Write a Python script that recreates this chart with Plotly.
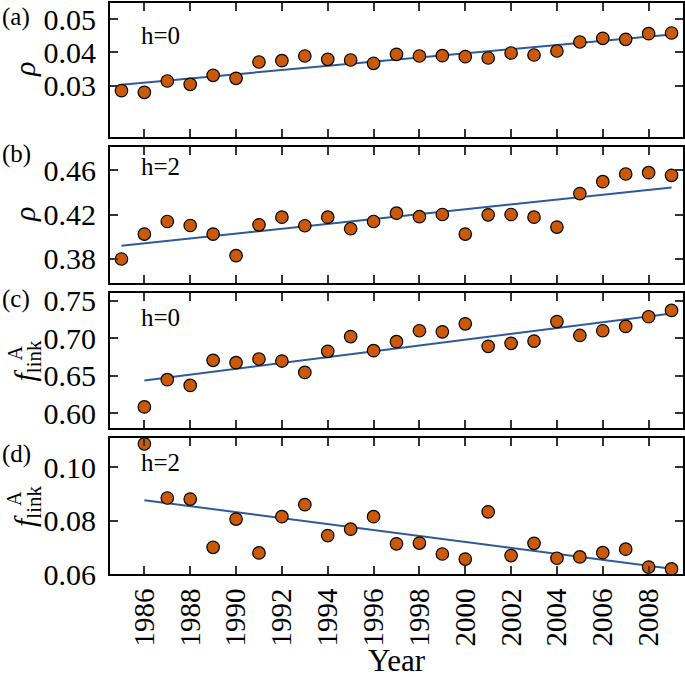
import numpy as np
import plotly.graph_objects as go

# ---------------- data ----------------
years_ab = list(range(1985, 2010))
years_cd = list(range(1986, 2010))

rho_h0 = [0.0285, 0.0280, 0.0314, 0.0304, 0.0331, 0.0322, 0.0371, 0.0375, 0.0389,
          0.0379, 0.0377, 0.0367, 0.0394, 0.0389, 0.0390, 0.0387, 0.0383, 0.0398,
          0.0392, 0.0404, 0.0431, 0.0442, 0.0439, 0.0456, 0.0458]

rho_h2 = [0.3800, 0.4024, 0.4137, 0.4101, 0.4024, 0.3830, 0.4107, 0.4176, 0.4099,
          0.4176, 0.4072, 0.4137, 0.4212, 0.4180, 0.4200, 0.4024, 0.4197, 0.4200,
          0.4176, 0.4087, 0.4388, 0.4495, 0.4564, 0.4576, 0.4552]

flink_h0 = [0.6084, 0.6447, 0.6371, 0.6704, 0.6673, 0.6722, 0.6695, 0.6544, 0.6824,
            0.7020, 0.6833, 0.6953, 0.7098, 0.7084, 0.7190, 0.6890, 0.6930, 0.6960,
            0.7220, 0.7035, 0.7098, 0.7155, 0.7284, 0.7368]

flink_h2 = [0.1088, 0.0885, 0.0881, 0.0700, 0.0806, 0.0679, 0.0815, 0.0860, 0.0744,
            0.0768, 0.0815, 0.0713, 0.0716, 0.0675, 0.0656, 0.0833, 0.0669, 0.0715,
            0.0659, 0.0664, 0.0680, 0.0693, 0.0626, 0.0619]

panel_letters = ["(a)", "(b)", "(c)", "(d)"]
h_labels = ["h=0", "h=2", "h=0", "h=2"]
year_ticks = list(range(1986, 2009, 2))
ytick_sets = [[0.03, 0.04, 0.05], [0.38, 0.42, 0.46],
              [0.60, 0.65, 0.70, 0.75], [0.06, 0.08, 0.10]]
ytick_text = [["0.03", "0.04", "0.05"], ["0.38", "0.42", "0.46"],
              ["0.60", "0.65", "0.70", "0.75"], ["0.06", "0.08", "0.10"]]

# ---------------- style / layout ----------------
W, H = 685, 677
L, R, T, B = 110, 2, 3, 103
PW, PH = W - L - R, H - T - B
FONT = "Liberation Serif"
ORANGE = "#CA5A0A"
BLUE = "#2F5A9A"

def py(pix):
    return 1 - (pix - T) / PH

def px(pix):
    return (pix - L) / PW

panel_pix = [(3, 137), (147, 283), (293, 428), (438, 574)]
y_ranges = [[0.0146, 0.0548], [0.3584, 0.4807], [0.5804, 0.760], [0.060, 0.111]]

series = [(years_ab, rho_h0), (years_ab, rho_h2), (years_cd, flink_h0), (years_cd, flink_h2)]

fig = go.Figure()
for i, (xs, ys) in enumerate(series):
    sfx = "" if i == 0 else str(i + 1)
    coef = np.polyfit(xs, ys, 1)
    xfit = np.array([xs[0], xs[-1]])
    yfit = np.polyval(coef, xfit)
    fig.add_trace(go.Scatter(x=xfit, y=yfit, mode="lines",
                             line=dict(color=BLUE, width=2),
                             xaxis="x" + sfx, yaxis="y" + sfx, showlegend=False))
    fig.add_trace(go.Scatter(x=xs, y=ys, mode="markers",
                             marker=dict(size=12.5, color=ORANGE,
                                         line=dict(color="black", width=1.2)),
                             xaxis="x" + sfx, yaxis="y" + sfx, showlegend=False))

layout = dict(template="none", width=W, height=H,
              margin=dict(l=L, r=R, t=T, b=B, autoexpand=False),
              paper_bgcolor="white", plot_bgcolor="white",
              font=dict(family=FONT, color="black", size=28))

for i in range(4):
    sfx = "" if i == 0 else str(i + 1)
    top, bot = panel_pix[i]
    layout["xaxis" + sfx] = dict(
        domain=[0, 1], anchor="y" + sfx, range=[1984.5, 2009.5],
        tickmode="array", tickvals=year_ticks,
        ticktext=[str(y) for y in year_ticks],
        showticklabels=(i == 3), tickangle=-90,
        ticks="inside", ticklen=8, tickwidth=1.5, tickcolor="#333",
        showline=True, linecolor="black", linewidth=2, mirror="allticks",
        showgrid=False, zeroline=False, automargin=False,
        tickfont=dict(family=FONT, size=29),
        ticklabelstandoff=1,
        **({} if i == 0 else {"matches": "x"}))
    layout["yaxis" + sfx] = dict(
        domain=[py(bot), py(top)], anchor="x" + sfx, range=y_ranges[i],
        tickmode="array", tickvals=ytick_sets[i], ticktext=ytick_text[i],
        ticks="inside", ticklen=8, tickwidth=1.5, tickcolor="#333",
        showline=True, linecolor="black", linewidth=2, mirror="allticks",
        showgrid=False, zeroline=False, automargin=False,
        tickfont=dict(family=FONT, size=30),
        ticklabelstandoff=6)

fig.update_layout(**layout)

ann = []
letter_pos = [17, 154, 299, 454]
h_pos = [36, 167, 317, 462]
for i in range(4):
    ann.append(dict(text=panel_letters[i], x=px(16), y=py(letter_pos[i]),
                    xref="paper", yref="paper", showarrow=False,
                    xanchor="center", yanchor="middle",
                    font=dict(family=FONT, size=25)))
    ann.append(dict(text=h_labels[i], x=px(160), y=py(h_pos[i]),
                    xref="paper", yref="paper", showarrow=False,
                    xanchor="center", yanchor="middle",
                    font=dict(family=FONT, size=25)))

# y-axis titles
for i in range(2):
    top, bot = panel_pix[i]
    ann.append(dict(text="<i>ρ</i>", x=px(24), y=py((top + bot) / 2),
                    xref="paper", yref="paper", showarrow=False, textangle=-90,
                    xanchor="center", yanchor="middle",
                    font=dict(family=FONT, size=30)))
for i in range(2, 4):
    top, bot = panel_pix[i]
    c = (top + bot) / 2
    ann.append(dict(text="<i>f</i><sub>link</sub>", x=px(27), y=py(c),
                    xref="paper", yref="paper", showarrow=False, textangle=-90,
                    xanchor="center", yanchor="middle",
                    font=dict(family=FONT, size=30)))
    ann.append(dict(text="A", x=px(14), y=py(c - 7),
                    xref="paper", yref="paper", showarrow=False, textangle=-90,
                    xanchor="center", yanchor="middle",
                    font=dict(family=FONT, size=20)))

ann.append(dict(text="Year", x=px(397), y=py(679), xref="paper", yref="paper",
                showarrow=False, xanchor="center", yanchor="bottom", borderpad=0,
                font=dict(family=FONT, size=31)))
fig.update_layout(annotations=ann)

fig.write_html("out.html", config={"displayModeBar": False},
               post_script="document.body.style.margin='0';document.body.style.padding='0';")
